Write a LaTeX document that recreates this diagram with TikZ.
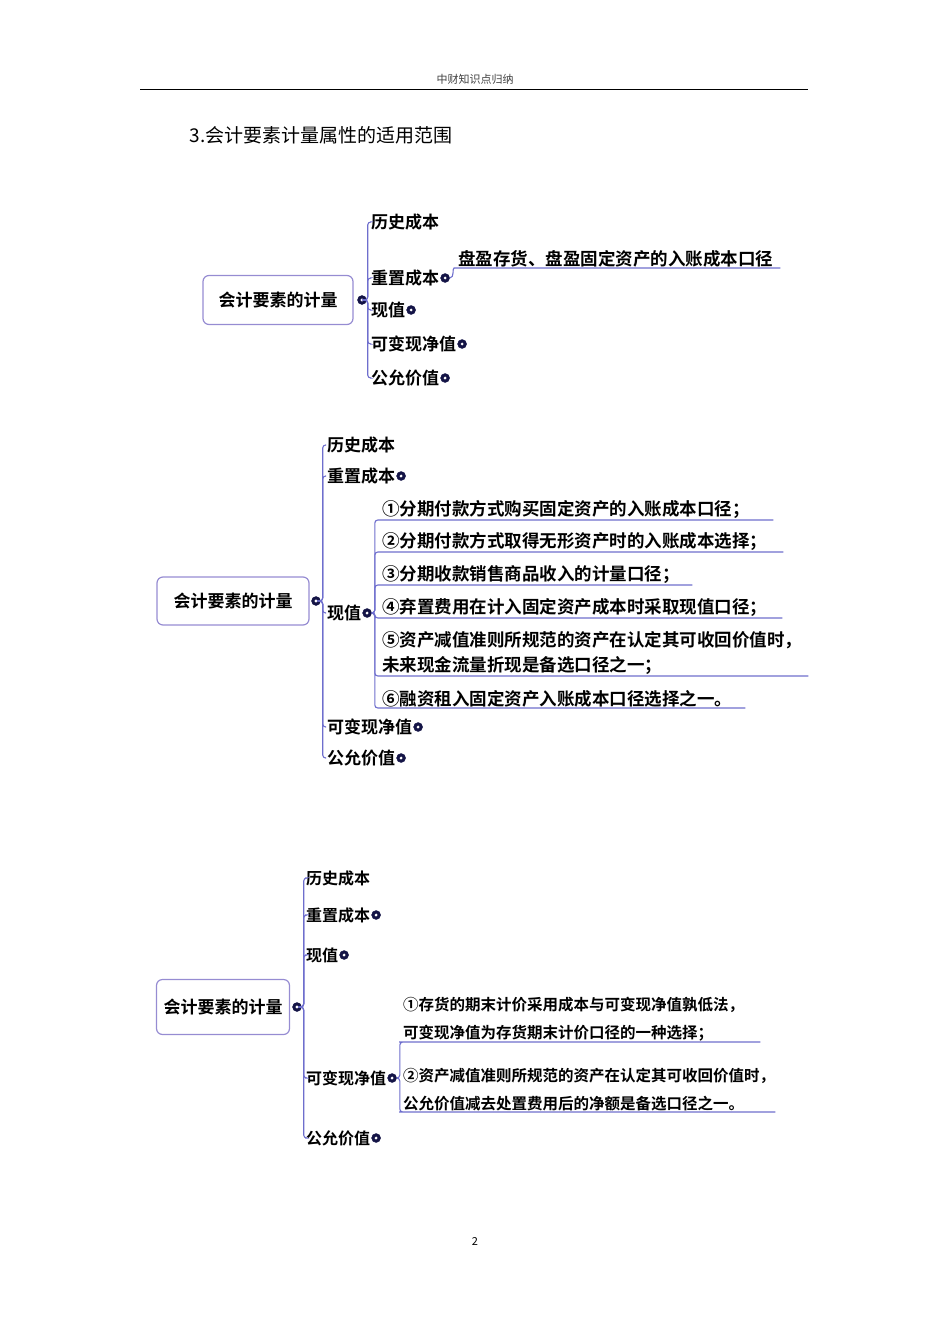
\documentclass[tikz,border=0pt]{standalone}
\usepackage{fontspec}
\setmainfont{Noto Sans CJK SC}
\newfontfamily\cjkb{Noto Sans CJK SC Bold}
\begin{document}
\begin{tikzpicture}[x=1pt,y=-1pt,
  br/.style={draw=brline,line width=1.1pt,rounded corners=3pt},
  rootbox/.style={draw=rootline,line width=1.2pt,rounded corners=6pt,font=\cjkb\fontsize{17}{20}\selectfont,inner sep=0pt},
  kid/.style={font=\cjkb\fontsize{17}{20}\selectfont,inner sep=1pt,anchor=west},
  leaf/.style={font=\cjkb\fontsize{17.5}{25}\selectfont,inner sep=1pt,anchor=south west,align=left},
  knob/.style={circle,fill=knobc,draw=knobc,inner sep=0pt,minimum size=9pt,anchor=west,path picture={\fill[white] (path picture bounding box.center) circle (1.6pt);}}]
\definecolor{brline}{RGB}{110,110,205}
\definecolor{rootline}{RGB}{150,140,210}
\definecolor{knobc}{RGB}{20,20,70}
\useasboundingbox (0,0) rectangle (950,1344);
% header
\node[font=\fontsize{11}{13}\selectfont,text=black!75] (hdr) at (475,79) {中财知识点归纳};
\coordinate (hl) at (140,89); \coordinate (hr) at (808,89);
\draw[line width=0.8pt] (hl) -- (hr);
\node[font=\fontsize{19}{22}\selectfont,anchor=west] (title) at (186,135) {3.会计要素计量属性的适用范围};
\node[font=\fontsize{11}{13}\selectfont] (pg) at (475,1241) {2};

% ===== diagram 1 =====
\node[rootbox,minimum width=150pt,minimum height=49pt] (r1) at (278,300) {会计要素的计量};
\node[knob,anchor=center] (r1k) at (362,300) {};
\node[kid] (a1) at (370,222) {历史成本};
\node[kid] (a2) at (370,278) {重置成本};
\node[kid] (a3) at (370,310) {现值};
\node[kid] (a4) at (370,344) {可变现净值};
\node[kid] (a5) at (370,378) {公允价值};
\node[knob] (a2k) at (a2.east) {};
\node[knob] (a3k) at (a3.east) {};
\node[knob] (a4k) at (a4.east) {};
\node[knob] (a5k) at (a5.east) {};
\foreach \c in {a1,a2,a3,a4,a5} \draw[br] (r1k.east) -- ++(1,0) |- (\c.west);
\node[leaf,text width=321pt] (l1) at (457,268) {盘盈存货、盘盈固定资产的入账成本口径};
\draw[br] (a2k.east) to[out=0,in=180] (l1.south west) -- (l1.south east);

% ===== diagram 2 =====
\node[rootbox,minimum width=152pt,minimum height=48pt] (r2) at (233,601) {会计要素的计量};
\node[knob,anchor=center] (r2k) at (316,601) {};
\node[kid] (b1) at (326,445) {历史成本};
\node[kid] (b2) at (326,476) {重置成本};
\node[kid] (b3) at (326,613) {现值};
\node[kid] (b4) at (326,727) {可变现净值};
\node[kid] (b5) at (326,758) {公允价值};
\node[knob] (b2k) at (b2.east) {};
\node[knob] (b3k) at (b3.east) {};
\node[knob] (b4k) at (b4.east) {};
\node[knob] (b5k) at (b5.east) {};
\foreach \c in {b1,b2,b3,b4,b5} \draw[br] (r2k.east) -- ++(2,0) |- (\c.west);
\node[leaf,text width=390pt] (p1) at (381,520) {①分期付款方式购买固定资产的入账成本口径；};
\node[leaf,text width=400pt] (p2) at (381,552) {②分期付款方式取得无形资产时的入账成本选择；};
\node[leaf,text width=309pt] (p3) at (381,585) {③分期收款销售商品收入的计量口径；};
\node[leaf,text width=399pt] (p4) at (381,618) {④弃置费用在计入固定资产成本时采取现值口径；};
\node[leaf,text width=425pt] (p5) at (381,676) {⑤资产减值准则所规范的资产在认定其可收回价值时，\\未来现金流量折现是备选口径之一；};
\node[leaf,text width=362pt] (p6) at (381,708) {⑥融资租入固定资产入账成本口径选择之一。};
\foreach \c in {p1,p2,p3,p4,p5,p6} \draw[br] (b3k.east) -- ++(3,0) |- (\c.south west) -- (\c.south east);

% ===== diagram 3 =====
\node[rootbox,minimum width=133pt,minimum height=55pt] (r3) at (223,1007) {会计要素的计量};
\node[knob,anchor=center] (r3k) at (297,1007) {};
\begin{scope}[kid/.append style={font=\cjkb\fontsize{16}{20}\selectfont}]
\node[kid] (c1) at (305,878) {历史成本};
\node[kid] (c2) at (305,915) {重置成本};
\node[kid] (c3) at (305,955) {现值};
\node[kid] (c4) at (305,1078) {可变现净值};
\node[kid] (c5) at (305,1138) {公允价值};
\end{scope}
\node[knob] (c2k) at (c2.east) {};
\node[knob] (c3k) at (c3.east) {};
\node[knob] (c4k) at (c4.east) {};
\node[knob] (c5k) at (c5.east) {};
\foreach \c in {c1,c2,c3,c4,c5} \draw[br] (r3k.east) -- ++(2,0) |- (\c.west);
\begin{scope}[leaf/.append style={font=\cjkb\fontsize{15.5}{28}\selectfont}]
\node[leaf,text width=356pt] (q1) at (402,1042) {①存货的期末计价采用成本与可变现净值孰低法，\\可变现净值为存货期末计价口径的一种选择；};
\node[leaf,text width=371pt] (q2) at (402,1112) {②资产减值准则所规范的资产在认定其可收回价值时，\\公允价值减去处置费用后的净额是备选口径之一。};
\end{scope}
\foreach \c in {q1,q2} \draw[br] (c4k.east) -- ++(3,0) |- (\c.south west) -- (\c.south east);
\end{tikzpicture}
\end{document}
